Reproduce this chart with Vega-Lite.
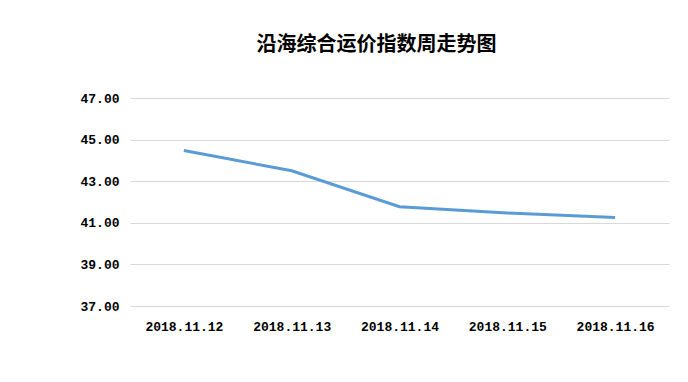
{
  "$schema": "https://vega.github.io/schema/vega-lite/v6.json",
  "autosize": "none",
  "width": 539,
  "height": 208,
  "padding": {"left": 130, "top": 98, "right": 19, "bottom": 76},
  "background": "white",
  "title": {
    "text": "沿海综合运价指数周走势图",
    "font": "Noto Sans CJK SC",
    "fontSize": 20,
    "fontWeight": "bold",
    "color": "#000000",
    "anchor": "middle",
    "dx": -23,
    "offset": 37
  },
  "data": {
    "values": [
      {"date": "2018.11.12", "value": 44.48},
      {"date": "2018.11.13", "value": 43.50},
      {"date": "2018.11.14", "value": 41.77},
      {"date": "2018.11.15", "value": 41.47},
      {"date": "2018.11.16", "value": 41.26}
    ]
  },
  "mark": {"type": "line", "color": "#5B9BD5", "strokeWidth": 3},
  "encoding": {
    "x": {
      "field": "date",
      "type": "ordinal",
      "sort": null,
      "scale": {"type": "point", "padding": 0.5},
      "axis": {
        "title": null,
        "labelAngle": 0,
        "labelFont": "Liberation Mono",
        "labelFontSize": 13,
        "labelFontWeight": "bold",
        "labelColor": "#000000",
        "labelPadding": 14,
        "domain": false,
        "ticks": false,
        "grid": false
      }
    },
    "y": {
      "field": "value",
      "type": "quantitative",
      "scale": {"domain": [37, 47], "zero": false, "nice": false},
      "axis": {
        "title": null,
        "values": [37, 39, 41, 43, 45, 47],
        "format": ".2f",
        "labelFont": "Liberation Mono",
        "labelFontSize": 13,
        "labelFontWeight": "bold",
        "labelColor": "#000000",
        "labelPadding": 11,
        "domain": false,
        "ticks": false,
        "grid": true,
        "gridColor": "#d9d9d9",
        "gridWidth": 1
      }
    }
  },
  "config": {"view": {"stroke": null}}
}
